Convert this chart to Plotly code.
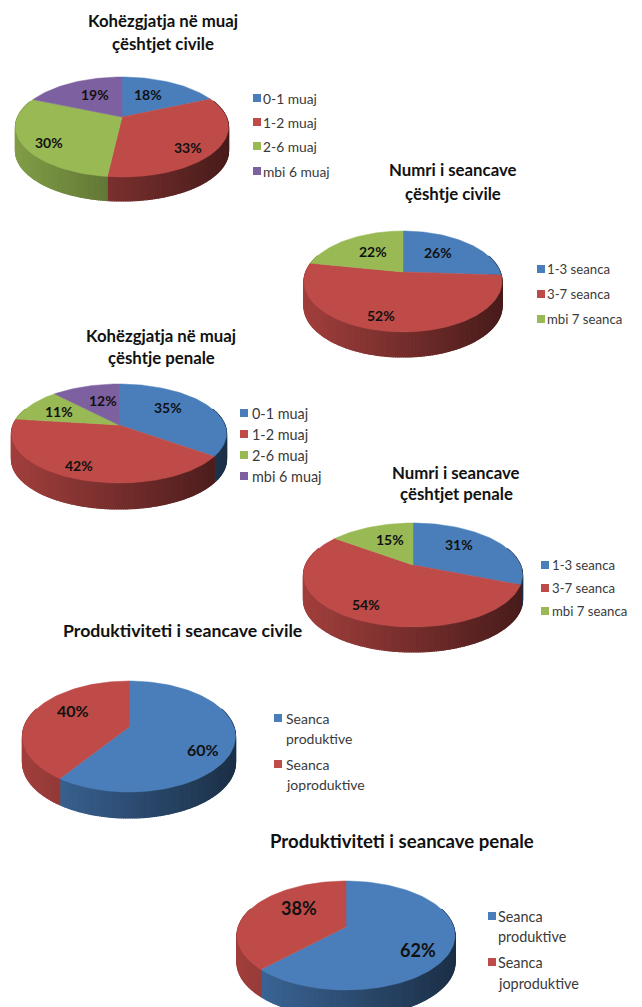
import math
import plotly.graph_objects as go

# ---- data ----
civil_duration = [18.4, 33.4, 29.6, 18.6]
civil_sessions = [26, 52, 22]
penal_duration = [35, 42, 11, 12]
penal_sessions = [31, 54, 15]
civil_productivity = [59.6, 40.4]
penal_productivity = [62.4, 37.6]

duration_categories = ["0-1 muaj", "1-2 muaj", "2-6 muaj", "mbi 6 muaj"]
session_categories = ["1-3 seanca", "3-7 seanca", "mbi 7 seanca"]
productivity_categories = ["Seanca<br>produktive", "Seanca<br>joproduktive"]

COLORS = ["#4A7EBB", "#BE4B48", "#98B954", "#7D60A0"]
PRODUCTIVITY_COLORS = ["#4A7EBB", "#BE4B48"]

# ---- layout of every panel (page pixels) ----
PANELS = [
    dict(values=civil_duration, cats=duration_categories, colors=COLORS,
         box=(16, 229, 77, 177), apex=(122, 117), depth=24,
         title=[("Kohëzgjatja në muaj", 163, 20), ("çështjet civile", 163, 43)], tsize=16.8,
         offs=[(26, -23), (66, 30), (-73, 25), (-27, -23)], lsize=14, legsize=13.8,
         swatch=257, text=261, ys=[[98], [122], [146], [171]]),
    dict(values=civil_sessions, cats=session_categories, colors=COLORS,
         box=(304, 502, 231, 332), apex=(403, 272), depth=25,
         title=[("Numri i seancave", 453, 169), ("çështje civile", 453, 193)], tsize=16.8,
         offs=[(35, -20), (-22, 43), (-30, -21)], lsize=14, legsize=13.2,
         swatch=541, text=545, ys=[[269], [294], [319]]),
    dict(values=penal_duration, cats=duration_categories, colors=COLORS,
         box=(12, 227, 384, 483), apex=(119, 425), depth=26,
         title=[("Kohëzgjatja në muaj", 161, 335), ("çështje penale", 161, 357)], tsize=16.8,
         offs=[(49, -18), (-40, 40), (-60, -14), (-16, -25)], lsize=14, legsize=14.4,
         swatch=244, text=250, ys=[[413], [434], [455], [476]]),
    dict(values=penal_sessions, cats=session_categories, colors=COLORS,
         box=(304, 523, 523, 627), apex=(413, 565), depth=25,
         title=[("Numri i seancave", 456, 472), ("çështjet penale", 456, 493)], tsize=16.8,
         offs=[(46, -21), (-47, 39), (-23, -26)], lsize=14, legsize=13.2,
         swatch=545, text=550, ys=[[565], [588], [611]]),
    dict(values=civil_productivity, cats=productivity_categories, colors=PRODUCTIVITY_COLORS,
         box=(23, 236, 681, 792), apex=(129, 727), depth=26,
         title=[("Produktiviteti i seancave civile", 182, 630)], tsize=17.7,
         offs=[(74, 22), (-56, -17)], lsize=16, legsize=14,
         swatch=278, text=284, ys=[[718, 738], [764, 784]]),
    dict(values=penal_productivity, cats=productivity_categories, colors=PRODUCTIVITY_COLORS,
         box=(237, 455, 881, 990), apex=(346, 927), depth=27,
         title=[("Produktiviteti i seancave penale", 402, 841)], tsize=18.6,
         offs=[(72, 23), (-47, -19)], lsize=18, legsize=14.4,
         swatch=492, text=496, ys=[[916, 936], [962, 983]]),
]

FONT = "Lato, Carlito, Calibri, sans-serif"
TITLE_COLOR = "#111111"
LEGEND_COLOR = "#3A3A3A"


def shade(hex_color, factor):
    r, g, b = (int(hex_color[i:i + 2], 16) for i in (1, 3, 5))
    return "rgb(%d,%d,%d)" % (r * factor, g * factor, b * factor)


def projector(panel):
    """Perspective view of a flat disk: the disk centre lands on the apex."""
    left, right, top, bottom = panel["box"]
    ax, ay = panel["apex"]
    up, down = ay - top, bottom - ay
    k = (down - up) / (down + up)
    ry = 2 * up * down / (up + down)
    rx = (right - left) / 2 * math.sqrt(1 - k * k)

    def project(fraction):
        t = 2 * math.pi * fraction
        u, v = math.sin(t), math.cos(t)
        w = 1 + k * v
        return ax + rx * u / w, ay - ry * v / w

    return project


fig = go.Figure()


def polygon(xs, ys, color, width=0.0):
    fig.add_trace(go.Scatter(
        x=xs, y=ys, mode="lines", fill="toself", fillcolor=color,
        line=dict(color=color, width=width), hoverinfo="skip", showlegend=False,
    ))


for panel in PANELS:
    project = projector(panel)
    values = panel["values"]
    total = sum(values)
    left, right, _, _ = panel["box"]
    ax, ay = panel["apex"]
    depth = panel["depth"]

    # side wall, in thin overlapping strips so that it darkens from left to right
    start = 0.0
    for value, color in zip(values, panel["colors"]):
        stop = start + value / total
        n = max(2, int((stop - start) * 360))
        edge = [start + (stop - start) * i / n for i in range(n + 1)]
        for a, b in zip(edge[:-1], edge[1:]):
            if math.cos(2 * math.pi * (a + b) / 2) > 0.35:
                continue
            (x0, y0), (x1, y1) = project(a), project(b)
            pos = ((x0 + x1) / 2 - left) / (right - left)
            polygon([x0, x1, x1, x0, x0],
                    [y0, y1, y1 + depth, y0 + depth, y0],
                    shade(color, 0.85 - 0.47 * pos), width=1.2)
        start = stop

    # top surface
    start = 0.0
    for value, color in zip(values, panel["colors"]):
        stop = start + value / total
        n = max(4, int((stop - start) * 200))
        pts = [project(start + (stop - start) * i / n) for i in range(n + 1)]
        polygon([ax] + [p[0] for p in pts] + [ax],
                [ay] + [p[1] for p in pts] + [ay], color, width=0.5)
        start = stop

    # percentage labels
    for value, (dx, dy) in zip(values, panel["offs"]):
        fig.add_annotation(
            x=ax + dx, y=ay + dy, text="<b>%d%%</b>" % round(100 * value / total),
            showarrow=False, xanchor="center", yanchor="middle",
            font=dict(family=FONT, size=panel["lsize"], color="#111111"),
        )

    # chart title
    for line, tx, ty in panel["title"]:
        fig.add_annotation(
            x=tx, y=ty, text="<b>%s</b>" % line, showarrow=False,
            xanchor="center", yanchor="middle",
            font=dict(family=FONT, size=panel["tsize"], color=TITLE_COLOR),
        )

    # legend
    for cat, color, ys in zip(panel["cats"], panel["colors"], panel["ys"]):
        fig.add_trace(go.Scatter(
            x=[panel["swatch"]], y=[ys[0]], mode="markers",
            marker=dict(symbol="square", size=8, color=color),
            hoverinfo="skip", showlegend=False,
        ))
        for line, ly in zip(cat.split("<br>"), ys):
            fig.add_annotation(
                x=panel["text"], y=ly, text=line, showarrow=False,
                xanchor="left", yanchor="middle",
                font=dict(family=FONT, size=panel["legsize"], color=LEGEND_COLOR),
            )

fig.update_layout(
    width=642, height=1007, autosize=False,
    margin=dict(l=0, r=0, t=0, b=0),
    paper_bgcolor="white", plot_bgcolor="white",
    xaxis=dict(range=[0, 642], visible=False, fixedrange=True),
    yaxis=dict(range=[1007, 0], visible=False, fixedrange=True),
)

fig.write_html(
    "out.html",
    config=dict(displayModeBar=False),
    post_script="document.body.style.margin='0';document.documentElement.style.overflow='hidden';",
)
